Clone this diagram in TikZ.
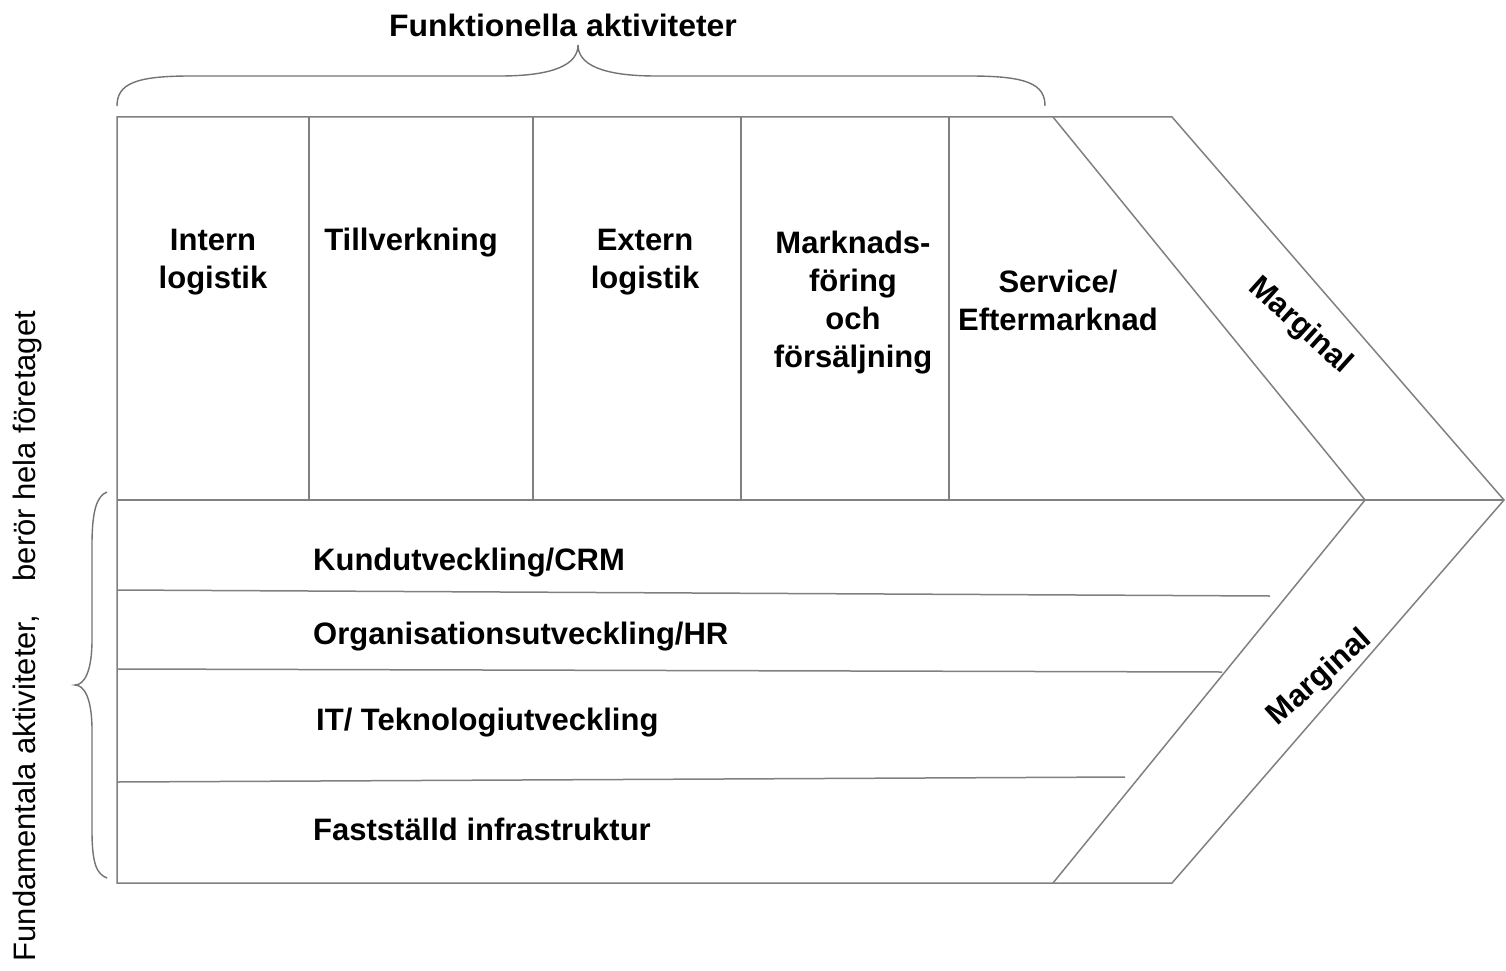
\documentclass[tikz,border=0pt]{standalone}
\usepackage{fontspec}
\setmainfont{Liberation Sans}
\begin{document}
\begin{tikzpicture}[x=1pt,y=-1pt,
  ln/.style={draw=black!50, line width=1.5pt},
  br/.style={draw=black!55, line width=1.4pt},
  lbl/.style={font=\fontsize{31}{38}\selectfont\bfseries, align=center, inner sep=0pt},
  rlbl/.style={font=\fontsize{31}{38}\selectfont\bfseries, anchor=west, inner sep=0pt},
  side/.style={font=\fontsize{31}{34}\selectfont, inner sep=0pt}]
\useasboundingbox (0,0) rectangle (1506,971);
% corner coordinates
\coordinate (tl) at (117,117);
\coordinate (bl) at (117,883);
\coordinate (ml) at (117,500);
\coordinate (ti) at (1053,117);
\coordinate (to) at (1172,117);
\coordinate (bi) at (1053,883);
\coordinate (bo) at (1172,883);
\coordinate (mi) at (1365,500);
\coordinate (mo) at (1504,500);
% outline
\draw[ln] (tl) -- (to) -- (mo) -- (bo) -- (bl) -- cycle;
\draw[ln] (ti) -- (mi) -- (bi);
\draw[ln] (ml) -- (mo);
% vertical dividers
\foreach \x/\n in {309/a,533/b,741/c,949/d}{
  \coordinate (v\n t) at (\x,117);
  \coordinate (v\n b) at (\x,500);
  \draw[ln] (v\n t) -- (v\n b);
}
% lower rows
\coordinate (r1a) at (117,590); \coordinate (r1b) at (1270,596);
\coordinate (r2a) at (117,669); \coordinate (r2b) at (1222,672);
\coordinate (r3a) at (117,782); \coordinate (r3b) at (1125,777);
\draw[ln] (r1a) -- (r1b);
\draw[ln] (r2a) -- (r2b);
\draw[ln] (r3a) -- (r3b);
% top brace
\coordinate (bt1) at (117,106);
\coordinate (bt2) at (578,45);
\coordinate (bt3) at (1045,106);
\draw[br] (bt1) .. controls (117,84) and (135,76) .. (190,76) -- (500,76)
  .. controls (555,76) and (578,64) .. (bt2)
  .. controls (578,64) and (601,76) .. (656,76) -- (970,76)
  .. controls (1027,76) and (1045,84) .. (bt3);
% left brace
\coordinate (lb1) at (107,492);
\coordinate (lb2) at (75,685);
\coordinate (lb3) at (107,878);
\draw[br] (lb1) .. controls (97,496) and (92,510) .. (92,545) -- (92,640)
  .. controls (92,672) and (84,685) .. (lb2)
  .. controls (84,685) and (92,698) .. (92,730) -- (92,830)
  .. controls (92,865) and (97,874) .. (lb3);
% labels
\node[lbl, xscale=1.03] (title) at (563,25) {Funktionella aktiviteter};
\node[lbl] (intern) at (213,262) {Intern\\logistik};
\node[lbl] (till) at (411,243) {Tillverkning};
\node[lbl] (extern) at (645,262) {Extern\\logistik};
\node[lbl] (mark) at (853,303) {Marknads-\\föring\\och\\försäljning};
\node[lbl] (serv) at (1058,300) {Service/\\Eftermarknad};
\node[lbl, rotate=-42] (marg1) at (1300,326) {Marginal};
\node[lbl, rotate=42] (marg2) at (1320,678) {Marginal};
\node[rlbl] (kund) at (313,563) {Kundutveckling/CRM};
\node[rlbl] (org) at (313,637) {Organisationsutveckling/HR};
\node[rlbl] (it) at (316,723) {IT/ Teknologiutveckling};
\node[rlbl] (fast) at (313,829) {Fastställd infrastruktur};
\node[side, rotate=90] (fund) at (27,636) {Fundamentala aktiviteter,\hspace{0.8em} berör hela företaget};
\end{tikzpicture}
\end{document}
